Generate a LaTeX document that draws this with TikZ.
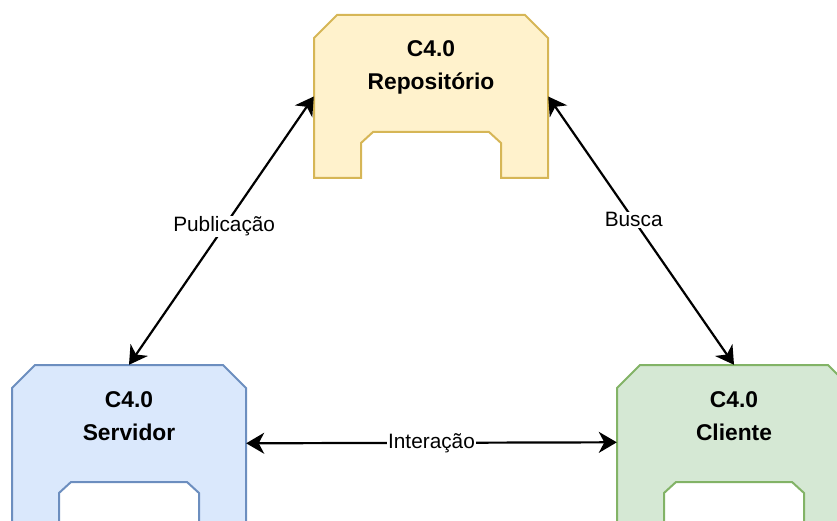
\documentclass[tikz,border=0pt]{standalone}
\usepackage{fontspec}
\setmainfont{Liberation Sans}
\usetikzlibrary{arrows.meta,calc}
\definecolor{yfill}{HTML}{FFF2CC}\definecolor{ydraw}{HTML}{D6B656}
\definecolor{bfill}{HTML}{DAE8FC}\definecolor{bdraw}{HTML}{6C8EBF}
\definecolor{gfill}{HTML}{D5E8D4}\definecolor{gdraw}{HTML}{82B366}
\newcommand{\compshape}[3]{\draw[#3] (#1,#2+23) -- ++(23,-23) -- ++(188,0) -- ++(23,23) -- ++(0,140) -- ++(-47,0) -- ++(0,-35) -- ++(-12,-11) -- ++(-116,0) -- ++(-12,11) -- ++(0,35) -- ++(-47,0) -- cycle;}
\begin{document}
\begin{tikzpicture}[x=1pt,y=-1pt,
  box/.style={draw=none,fill=none,minimum width=234pt,minimum height=163pt,inner sep=0pt},
  title/.style={font=\bfseries\fontsize{22.8}{33}\selectfont,align=center,inner sep=0pt},
  conn/.style={line width=2.2pt,{Stealth[length=18pt,width=21pt,inset=5.5pt]}-{Stealth[length=18pt,width=21pt,inset=5.5pt]}},
  elab/.style={font=\fontsize{20.8}{24}\selectfont,fill=white,inner sep=1pt}]
\useasboundingbox (0,0) rectangle (837,521);
\compshape{314}{15}{fill=yfill,draw=ydraw,line width=2pt}
\compshape{12}{365}{fill=bfill,draw=bdraw,line width=2pt}
\compshape{617}{365}{fill=gfill,draw=gdraw,line width=2pt}
\node[box] (repo) at (431,96.5) {};
\node[box] (serv) at (129,446.5) {};
\node[box] (cli) at (734,446.5) {};
\node[title] (repot) at (431,67) {C4.0\\Repositório};
\node[title] (servt) at (129,416) {C4.0\\Servidor};
\node[title] (clit) at (734,416) {C4.0\\Cliente};
\draw[conn] (repo.west) -- node[elab,pos=0.485] (lpub) {Publicação} (serv.north);
\draw[conn] (repo.east) -- node[elab,pos=0.46] (lbus) {Busca} (cli.north);
\draw[conn] ([yshift=3.2pt]serv.east) -- node[elab,midway] (lint) {Interação} ([yshift=4.2pt]cli.west);
\end{tikzpicture}
\end{document}
